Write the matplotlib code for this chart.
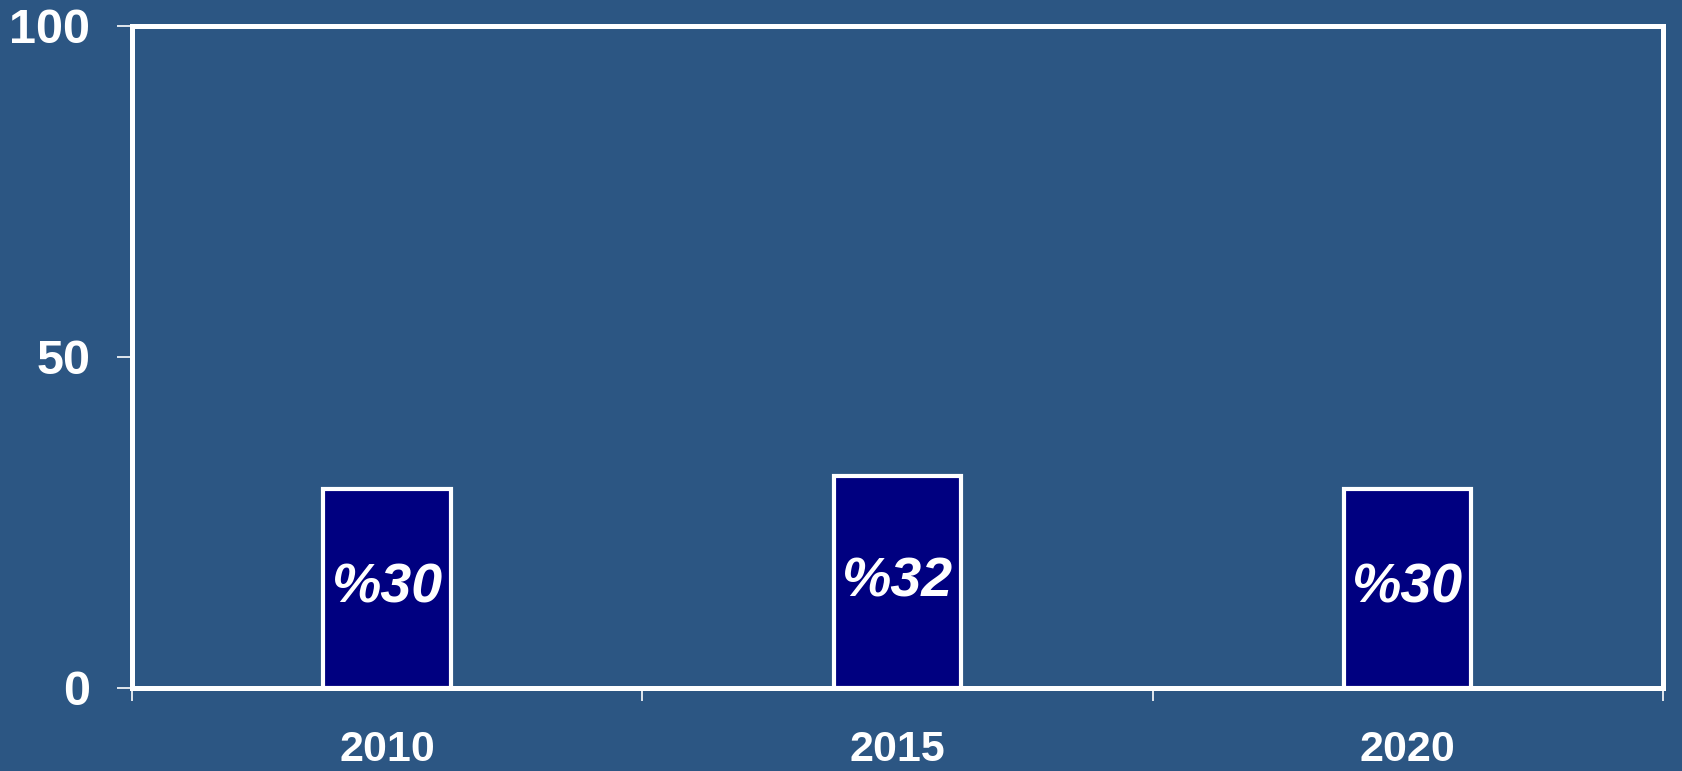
import matplotlib
matplotlib.use('Agg')
import matplotlib.pyplot as plt
import numpy as np

years = ['2010', '2015', '2020']
shares = [30, 32, 30]
bar_labels = ['%30', '%32', '%30']
yticks = [0, 50, 100]

bg = '#2c5683'
bar_color = '#000080'

plt.rc('font', family='Liberation Sans')
fig = plt.figure(figsize=(16.83, 7.71), dpi=100, facecolor=bg)
ax = fig.add_axes([0.0784, 0.1077, 0.9096, 0.8586])
ax.set_facecolor(bg)

x = np.arange(len(years))
bars = ax.bar(x, shares, width=0.25, color=bar_color, edgecolor='white', linewidth=3, zorder=3)
for xi, v, lab in zip(x, shares, bar_labels):
    ax.text(xi, v / 2, lab, ha='center', va='center', color='white',
            fontsize=40, fontweight='bold', fontstyle='italic', zorder=4)

ax.set_xlim(-0.5, len(years) - 0.5)
ax.set_ylim(0, 100)

# ticks between the categories, labels at the centres
ax.set_xticks(np.arange(-0.5, len(years)))
ax.set_xticklabels([])
ax.set_xticks(x, minor=True)
ax.set_xticklabels(years, minor=True, fontsize=31, fontweight='bold', color='white')
ax.tick_params(axis='x', which='major', length=9, width=1.2, color='white')
ax.tick_params(axis='x', which='minor', length=0, pad=30)

ax.set_yticks(yticks)
ax.set_yticklabels([str(t) for t in yticks], fontsize=35, fontweight='bold', color='white')
ax.tick_params(axis='y', length=11, width=1.2, color='white', pad=19)

for s in ax.spines.values():
    s.set_color('white')
    s.set_linewidth(3.6)
    s.set_zorder(5)

fig.savefig('out.png', dpi=100, facecolor=bg)
